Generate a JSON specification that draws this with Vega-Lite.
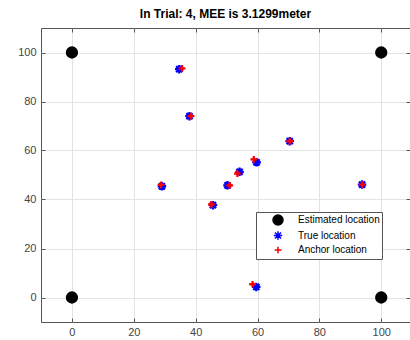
{
  "$schema": "https://vega.github.io/schema/vega-lite/v6.json",
  "width": 369,
  "height": 294,
  "autosize": {"type": "none"},
  "padding": {"left": 41, "top": 28, "right": 0, "bottom": 18},
  "background": "white",
  "title": {"text": "In Trial: 4, MEE is 3.1299meter", "font": "Liberation Sans", "fontSize": 12, "fontWeight": "bold", "color": "#000000", "anchor": "middle", "offset": 7},
  "config": {
    "view": {"stroke": "#555555", "strokeWidth": 1},
    "axis": {"labelFont": "Liberation Sans", "labelFontSize": 11, "labelColor": "#444444", "domain": false, "tickColor": "#555555", "gridColor": "#e3e3e3", "tickCount": 6},
    "legend": {"labelFont": "Liberation Sans", "labelFontSize": 10, "labelColor": "#000000"}
  },
  "data": {"values": [
    {"type": "Estimated location", "x": 0, "y": 0},
    {"type": "Estimated location", "x": 0, "y": 100},
    {"type": "Estimated location", "x": 100, "y": 0},
    {"type": "Estimated location", "x": 100, "y": 100},
    {"type": "True location", "x": 34.7, "y": 93.2},
    {"type": "True location", "x": 38.0, "y": 74.0},
    {"type": "True location", "x": 29.1, "y": 45.4},
    {"type": "True location", "x": 45.6, "y": 37.7},
    {"type": "True location", "x": 50.3, "y": 45.8},
    {"type": "True location", "x": 54.2, "y": 51.3},
    {"type": "True location", "x": 59.7, "y": 55.2},
    {"type": "True location", "x": 70.4, "y": 63.8},
    {"type": "True location", "x": 93.8, "y": 46.1},
    {"type": "True location", "x": 59.6, "y": 4.3},
    {"type": "Anchor location", "x": 35.6, "y": 93.5},
    {"type": "Anchor location", "x": 38.5, "y": 74.0},
    {"type": "Anchor location", "x": 28.8, "y": 46.0},
    {"type": "Anchor location", "x": 45.1, "y": 38.0},
    {"type": "Anchor location", "x": 51.0, "y": 45.8},
    {"type": "Anchor location", "x": 53.5, "y": 50.6},
    {"type": "Anchor location", "x": 58.8, "y": 56.4},
    {"type": "Anchor location", "x": 70.4, "y": 63.8},
    {"type": "Anchor location", "x": 93.8, "y": 46.1},
    {"type": "Anchor location", "x": 58.4, "y": 5.4}
  ]},
  "resolve": {"axis": {"x": "independent", "y": "independent"}},
  "layer": [
    {
      "mark": {"type": "point", "filled": true, "opacity": 1, "strokeWidth": 2.3},
      "encoding": {
        "x": {"field": "x", "type": "quantitative", "scale": {"domain": [-10, 109.3], "nice": false, "zero": false},
              "axis": {"title": null, "values": [0, 20, 40, 60, 80, 100], "grid": true, "tickSize": -4, "labelPadding": 8}},
        "y": {"field": "y", "type": "quantitative", "scale": {"domain": [-10, 110], "nice": false, "zero": false},
              "axis": {"title": null, "values": [0, 20, 40, 60, 80, 100], "grid": true, "tickSize": -4, "labelPadding": 9}},
        "fill": {"field": "type", "type": "nominal",
                 "scale": {"domain": ["Estimated location", "True location", "Anchor location"], "range": ["#000000", "#0000ff", "#ff0000"]},
                 "legend": {"title": null, "orient": "none", "legendX": 215, "legendY": 184, "strokeColor": "#555555", "fillColor": "#ffffff", "padding": 2, "symbolOffset": 14, "labelOffset": 14, "rowPadding": 0}},
        "stroke": {"field": "type", "type": "nominal",
                 "scale": {"domain": ["Estimated location", "True location", "Anchor location"], "range": ["#000000", "#0000ff", "#ff0000"]}},
        "shape": {"field": "type", "type": "nominal",
                 "scale": {"domain": ["Estimated location", "True location", "Anchor location"], "range": ["circle", "M-1,0L1,0M0,-1L0,1M-0.72,-0.72L0.72,0.72M-0.72,0.72L0.72,-0.72", "M-1,0L1,0M0,-1L0,1"]}},
        "size": {"field": "type", "type": "nominal",
                 "scale": {"domain": ["Estimated location", "True location", "Anchor location"], "range": [100, 45, 45]}}
      }
    },
    {
      "mark": {"type": "point", "opacity": 0},
      "encoding": {
        "x": {"field": "x", "type": "quantitative", "axis": {"orient": "top", "title": null, "values": [0, 20, 40, 60, 80, 100], "labels": false, "grid": false, "tickSize": -4}},
        "y": {"field": "y", "type": "quantitative", "axis": {"orient": "right", "title": null, "values": [0, 20, 40, 60, 80, 100], "labels": false, "grid": false, "tickSize": -4}}
      }
    }
  ]
}
